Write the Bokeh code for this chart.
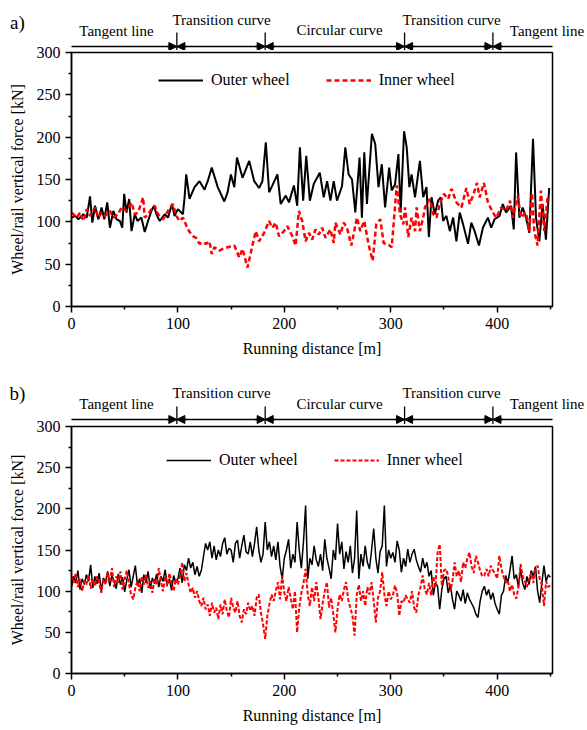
from bokeh.plotting import figure
from bokeh.models import Range1d, Label, Arrow, NormalHead, Legend, LegendItem, FixedTicker
from bokeh.embed import file_html
from bokeh.resources import INLINE

FONT = "Liberation Serif"

# ---------------- data ----------------
sections = ["Tangent line", "Transition curve", "Circular curve", "Transition curve", "Tangent line"]
boundaries = [99, 182, 313, 396]
x_ticks = [0, 100, 200, 300, 400]
y_ticks = [0, 50, 100, 150, 200, 250, 300]

# panel a) outer wheel
a_outer_x = [0.3, 3.4, 6.5, 11.2, 14.3, 17.4, 19.6, 22.1, 25.2, 28.3, 30.8, 33.6, 36.1, 39.3, 42.4, 45.5,
             47.7, 49.5, 51.7, 54.2, 56.4, 59.5, 62.0, 65.7, 68.8, 71.9, 75.1, 77.6, 79.8, 82.9, 87.5, 90.7,
             94.4, 96.9, 100.0, 104.7, 106.2, 107.8, 110.9, 115.6, 120.3, 125.0, 128.0, 131.8, 137.4, 143.6,
             146.7, 149.8, 153.0, 155.5, 160.7, 167.0, 171.7, 176.3, 179.4, 182.6, 185.7, 188.8, 193.5, 196.6,
             201.3, 204.4, 209.0, 212.1, 214.6, 217.7, 220.6, 224.0, 227.7, 233.3, 237.0, 240.2, 243.3, 246.4,
             249.5, 254.2, 257.3, 260.4, 263.6, 266.7, 270.7, 272.9, 275.1, 277.6, 282.3, 285.4, 288.5, 291.6,
             294.7, 298.5, 300.9, 304.0, 307.2, 309.3, 312.5, 315.0, 317.5, 319.6, 322.8, 327.4, 330.5, 333.6,
             335.8, 338.3, 341.4, 344.5, 347.0, 349.2, 352.3, 355.5, 358.6, 361.7, 364.8, 368.0, 372.6, 375.7,
             378.8, 382.9, 386.6, 391.3, 394.4, 397.5, 402.2, 405.3, 408.4, 413.1, 415.6, 417.8, 420.9, 424.0,
             427.1, 430.2, 433.7, 436.5, 439.6, 442.7, 445.8, 448.9]
a_outer_y = [105, 107, 103, 109, 105, 130, 99, 119, 103, 117, 103, 123, 93, 113, 103, 101,
             93, 133, 111, 127, 89, 109, 101, 105, 88, 101, 113, 119, 109, 101, 109, 105,
             121, 107, 115, 109, 128, 156, 127, 141, 148, 138, 148, 164, 141, 124,
             135, 156, 141, 176, 152, 172, 148, 140, 148, 194, 135, 143, 156, 121,
             131, 123, 143, 119, 188, 125, 178, 125, 145, 158, 129, 148, 125, 148,
             125, 142, 188, 156, 150, 111, 176, 105, 182, 121, 204, 192, 141, 168,
             117, 164, 137, 144, 180, 111, 207, 188, 141, 156, 129, 172, 129, 141,
             82, 129, 109, 125, 129, 101, 107, 89, 105, 77, 111, 97, 74, 99,
             89, 72, 93, 105, 93, 103, 107, 121, 111, 119, 91, 182, 105, 117,
             105, 87, 198, 105, 77, 121, 79, 140]

# panel a) inner wheel
a_inner_x = [0.3, 5.0, 8.1, 11.2, 14.3, 17.4, 22.1, 25.2, 28.3, 31.5, 36.1, 39.3, 43.9, 47.0, 51.7, 56.4,
             59.5, 62.6, 67.3, 68.8, 71.9, 75.1, 78.2, 81.3, 86.0, 90.7, 95.3, 98.5, 101.6, 104.7, 106.2,
             109.3, 114.0, 117.1, 120.3, 123.4, 126.5, 129.6, 131.8, 134.3, 139.0, 142.1, 146.7, 153.0,
             157.6, 160.7, 165.4, 170.0, 173.2, 176.3, 181.0, 185.7, 188.8, 191.9, 195.0, 199.7, 202.8,
             207.5, 210.6, 213.7, 216.8, 220.0, 223.1, 226.2, 229.3, 232.4, 235.5, 238.7, 243.3, 246.4,
             248.0, 252.7, 255.8, 258.9, 263.0, 268.2, 271.4, 275.1, 279.2, 283.0, 286.4, 290.2, 293.3,
             297.9, 300.9, 305.6, 308.7, 311.8, 313.4, 316.5, 319.6, 322.8, 324.3, 327.4, 330.5, 332.1,
             336.8, 339.9, 343.0, 346.1, 349.9, 353.9, 357.1, 361.7, 366.4, 371.1, 374.2, 377.9, 381.0,
             383.5, 387.6, 391.3, 396.0, 399.1, 403.7, 408.4, 412.1, 414.6, 419.3, 422.4, 427.1, 430.2,
             432.7, 434.9, 438.0, 441.1, 444.3, 447.4]
a_inner_y = [111, 105, 111, 101, 115, 107, 117, 105, 111, 107, 113, 105, 109, 117, 113, 123,
             109, 111, 129, 105, 109, 115, 119, 109, 103, 113, 121, 107, 101, 105, 101,
             91, 83, 81, 74, 76, 74, 77, 62, 70, 66, 68, 70, 72,
             58, 68, 46, 72, 89, 77, 87, 101, 93, 99, 83, 89, 95,
             83, 72, 113, 101, 77, 87, 79, 91, 85, 93, 81, 91, 75,
             99, 85, 99, 93, 72, 105, 89, 101, 73, 54, 97, 103, 75,
             73, 70, 143, 109, 97, 117, 82, 105, 89, 117, 89, 105, 117,
             127, 109, 105, 121, 133, 127, 139, 123, 117, 140, 121, 133, 146,
             129, 146, 123, 111, 105, 117, 113, 125, 105, 130, 105, 111, 89,
             134, 89, 72, 137, 89, 129]

# panel b) values every 2 m, 0..450
b_x = list(range(0, 451, 2))
b_outer = [105, 118, 110, 125, 102, 115, 108, 120, 112, 132,
           104, 118, 109, 122, 100, 116, 111, 124, 106, 119,
           112, 103, 121, 108, 117, 99, 114, 126, 105, 118,
           131, 107, 115, 98, 120, 110, 124, 103, 116, 109,
           121, 105, 118, 112, 126, 108, 115, 101, 119, 110,
           115, 128, 110, 132, 125, 140, 128, 135, 120, 130,
           118, 125, 142, 158, 150, 160, 140, 155, 138, 150,
           142, 158, 165, 145, 152,
           150, 135, 158, 162, 140, 155, 168, 148, 145, 160,
           142, 158, 178, 150, 135, 145, 184, 150, 160, 142,
           155, 138, 160, 130, 115, 140, 150, 163, 128, 145,
           135, 184, 150, 128, 160, 204, 115, 140, 132, 155,
           138, 130, 145, 125, 163, 140, 128, 115, 150, 138,
           182, 145, 160, 127, 148, 135, 155, 122, 140, 198,
           115, 145, 130, 155, 135, 127, 150, 176, 140, 122,
           148, 155, 204, 130, 150, 140, 147, 135, 161, 150,
           123, 140, 130, 151, 135, 145, 151, 138, 130, 123,
           140, 128, 135, 118, 125, 95, 110, 106, 78, 102,
           115, 118, 98, 108, 90, 78, 100, 95, 88, 102,
           85, 98, 90, 85, 80, 72, 68, 88, 100, 106,
           95, 102, 90, 98, 85, 78, 72, 95, 100, 119,
           110, 125, 143, 115, 120, 105, 127, 110, 102, 118,
           108, 125, 118, 130, 100, 86, 110, 131, 112, 120, 117]
b_inner = [118, 110, 122, 105, 115, 100, 112, 108, 120, 103,
           114, 106, 118, 110, 98, 115, 108, 122, 112, 128,
           105, 118, 110, 124, 102, 115, 125, 108, 96, 90,
           104, 112, 100, 118, 108, 120, 104, 112, 98, 115,
           108, 128, 112, 100, 118, 106, 122, 110, 100, 115,
           108, 118, 135, 112, 122, 108, 98, 104, 92, 100,
           88, 82, 92, 78, 84, 70, 86, 74, 80, 66,
           84, 72, 90, 76, 68,
           92, 80, 74, 88, 70, 62, 78, 72, 86, 76,
           82, 70, 92, 96, 74, 60, 42, 70, 84, 96,
           88, 100, 111, 90, 119, 98, 88, 105, 92, 78,
           100, 50, 80, 98, 110, 127, 96, 82, 105, 88,
           111, 92, 66, 85, 100, 111, 80, 92, 72, 50,
           78, 96, 88, 102, 111, 90, 80, 70, 46, 95,
           108, 88, 100, 82, 105, 96, 111, 88, 62, 92,
           100, 123, 96, 82, 100, 90,
           95, 107, 98, 70, 88, 86, 95, 90, 86, 100,
           80, 74, 96, 105, 119, 102, 96, 110, 95, 118,
           105, 147, 157, 107, 125, 127, 118, 100, 112, 135,
           118, 125, 111, 135, 128, 140, 147, 130, 122, 143,
           135, 125, 118, 119, 127, 118, 131, 125, 122, 115,
           143, 127, 118, 110, 113, 100, 108, 96, 91, 105,
           133, 118, 112, 105, 115, 122, 110, 126, 131, 115,
           108, 82, 112, 105, 107]

K = 452 / 481.0   # data units per pixel along x
LEFT, RIGHT = 71, 35
OVERLAP = 10      # px by which a panel slides up under its strip


def make_strip(tag, strip_h, gap, line_off, tick_off, label_offs, tag_off):
    # strip above a panel: x in data units, y in pixels above the panel frame top
    s = figure(width=587, height=strip_h, min_border=0,
               x_range=Range1d(-LEFT * K, (587 - LEFT) * K), y_range=Range1d(gap, gap + strip_h),
               x_axis_type=None, y_axis_type=None, output_backend="svg", toolbar_location=None)
    s.grid.visible = False
    s.outline_line_color = None
    s.border_fill_alpha = 0
    s.background_fill_alpha = 0
    s.add_layout(Arrow(x_start=0, y_start=line_off, x_end=452, y_end=line_off,
                       start=None, end=None, line_width=1.3, line_color="black"))
    for b in boundaries:
        s.add_layout(Arrow(x_start=b, y_start=gap - 2, x_end=b, y_end=tick_off,
                           start=None, end=None, line_width=1.3, line_color="black"))
        for sgn in (-1, 1):
            s.add_layout(Arrow(x_start=b + sgn * 10 * K, y_start=line_off, x_end=b, y_end=line_off,
                               end=NormalHead(size=8, fill_color="black", line_color="black", line_width=1),
                               line_width=1.3))
    centers_px = [116, 221, 339, 451, 546.5]
    for name, cx, off in zip(sections, centers_px, label_offs):
        s.add_layout(Label(x=(cx - LEFT) * K, y=off, text=name, text_align="center",
                           text_baseline="middle", text_font=FONT, text_font_size="15px",
                           text_color="black"))
    s.add_layout(Label(x=(17 - LEFT) * K, y=tag_off, text=tag, text_align="center",
                       text_baseline="middle", text_font=FONT, text_font_size="19px",
                       text_color="black"))
    return s


def make_panel(ox, oy, ix, iy, frame_h, top, bottom, legend_xy, lw, dash):
    p = figure(frame_width=481, frame_height=frame_h,
               min_border_left=LEFT, min_border_right=RIGHT, min_border_top=top, min_border_bottom=bottom,
               x_range=Range1d(0, 452), y_range=Range1d(0, 300),
               output_backend="svg", toolbar_location=None,
               styles={"margin-top": f"-{OVERLAP}px"})
    p.grid.visible = False
    p.outline_line_color = "black"
    p.outline_line_width = 1.5
    p.border_fill_alpha = 0

    p.xaxis.ticker = FixedTicker(ticks=x_ticks, minor_ticks=[50, 150, 250, 350, 450])
    p.yaxis.ticker = FixedTicker(ticks=y_ticks, minor_ticks=[25, 75, 125, 175, 225, 275])
    p.xaxis.axis_label = "Running distance [m]"
    p.yaxis.axis_label = "Wheel/rail vertical force [kN]"
    for ax in (p.xaxis[0], p.yaxis[0]):
        ax.axis_line_width = 1.5
        ax.axis_line_color = "black"
        ax.major_tick_line_width = 1.5
        ax.minor_tick_line_width = 1.5
        ax.major_tick_in = 0
        ax.major_tick_out = 6
        ax.minor_tick_in = 0
        ax.minor_tick_out = 3
        ax.major_label_text_font = FONT
        ax.major_label_text_font_size = "16px"
        ax.major_label_text_color = "black"
        ax.major_label_standoff = 5
        ax.axis_label_text_font = FONT
        ax.axis_label_text_font_size = "16px"
        ax.axis_label_text_font_style = "normal"
        ax.axis_label_text_color = "black"
        ax.axis_label_standoff = 8

    r_out = p.line(ox, oy, line_color="black", line_width=lw)
    r_in = p.line(ix, iy, line_color="red", line_width=lw + 0.5, line_dash=dash)

    leg = Legend(items=[LegendItem(label="Outer wheel", renderers=[r_out]),
                        LegendItem(label="Inner wheel", renderers=[r_in])],
                 orientation="horizontal", location=legend_xy,
                 glyph_width=45, glyph_height=20, label_standoff=8, spacing=36,
                 padding=0, margin=0, border_line_alpha=0, background_fill_alpha=0,
                 label_text_font=FONT, label_text_font_size="16px", label_text_color="black")
    p.add_layout(leg)
    return p


s1 = make_strip("a)", 50, 2, 6, 20, [22, 33, 23, 33, 22], 30)
p1 = make_panel(a_outer_x, a_outer_y, a_inner_x, a_inner_y, 254, 2 + OVERLAP, 64, (87, 216), 2, "5 3")
s2 = make_strip("b)", 54, 2, 7, 20, [23, 34, 23, 34, 23], 33)
p2 = make_panel(b_x, b_outer, b_x, b_inner, 247, 2 + OVERLAP, 57, (95, 203), 1.5, "4 2")

# separate roots, stacked in the page (no frame alignment between them)
open("out.html", "w").write(file_html([s1, p1, s2, p2], INLINE))
